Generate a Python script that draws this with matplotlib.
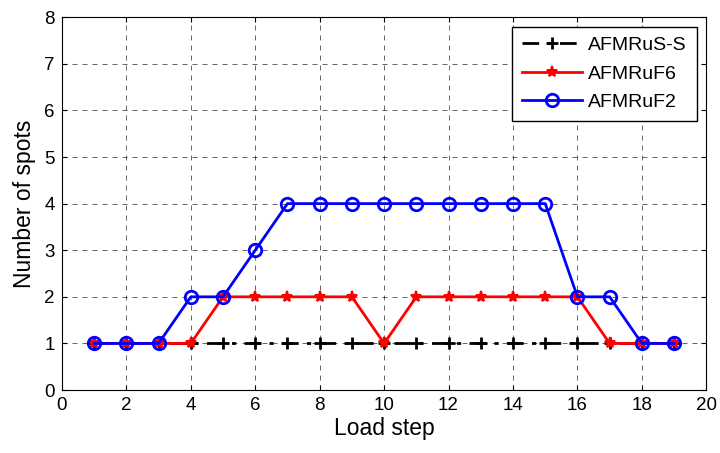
import matplotlib

matplotlib.use("Agg")
import matplotlib.pyplot as plt  # noqa: E402

LOAD_STEP = list(range(1, 20))
AFMRUS_S = [1] * 19
AFMRUF6 = [1, 1, 1, 1, 2, 2, 2, 2, 2, 1, 2, 2, 2, 2, 2, 2, 1, 1, 1]
AFMRUF2 = [1, 1, 1, 2, 2, 3, 4, 4, 4, 4, 4, 4, 4, 4, 4, 2, 2, 1, 1]

plt.rcParams.update({
    "font.family": ["Liberation Sans", "DejaVu Sans"],
    "font.size": 13.5,
})

fig = plt.figure(figsize=(7.2, 4.53), dpi=100)
ax = fig.add_axes([0.086, 0.139, 0.895, 0.823])

ax.plot(LOAD_STEP, AFMRUS_S, color="black", linestyle=(0, (6, 3, 1.5, 3)),
        linewidth=2, marker="+", markersize=9, markeredgewidth=2,
        label="AFMRuS-S")
ax.plot(LOAD_STEP, AFMRUF6, color="red", linestyle="-", linewidth=2,
        marker="*", markersize=8, markeredgewidth=1.5, label="AFMRuF6")
ax.plot(LOAD_STEP, AFMRUF2, color="blue", linestyle="-", linewidth=2,
        marker="o", markersize=9, markerfacecolor="none", markeredgewidth=2,
        label="AFMRuF2")

ax.set_xlim(0, 20)
ax.set_ylim(0, 8)
ax.set_xticks(range(0, 21, 2))
ax.set_yticks(range(0, 9))
ax.tick_params(direction="in", top=True, right=True, labelsize=13.5, pad=5)
ax.grid(True, linestyle=(0, (6, 6)), color="black", linewidth=0.6, alpha=0.7)
ax.set_xlabel("Load step", fontsize=16.5, labelpad=2)
ax.set_ylabel("Number of spots", fontsize=16.5, labelpad=6)

leg = ax.legend(loc="upper right", fancybox=False, edgecolor="black",
                framealpha=1, fontsize=14, handlelength=3.1,
                handletextpad=0.3, labelspacing=0.55, borderpad=0.5,
                borderaxespad=0.5)
leg.get_frame().set_linewidth(1.0)

fig.savefig("out.png", dpi=100)
